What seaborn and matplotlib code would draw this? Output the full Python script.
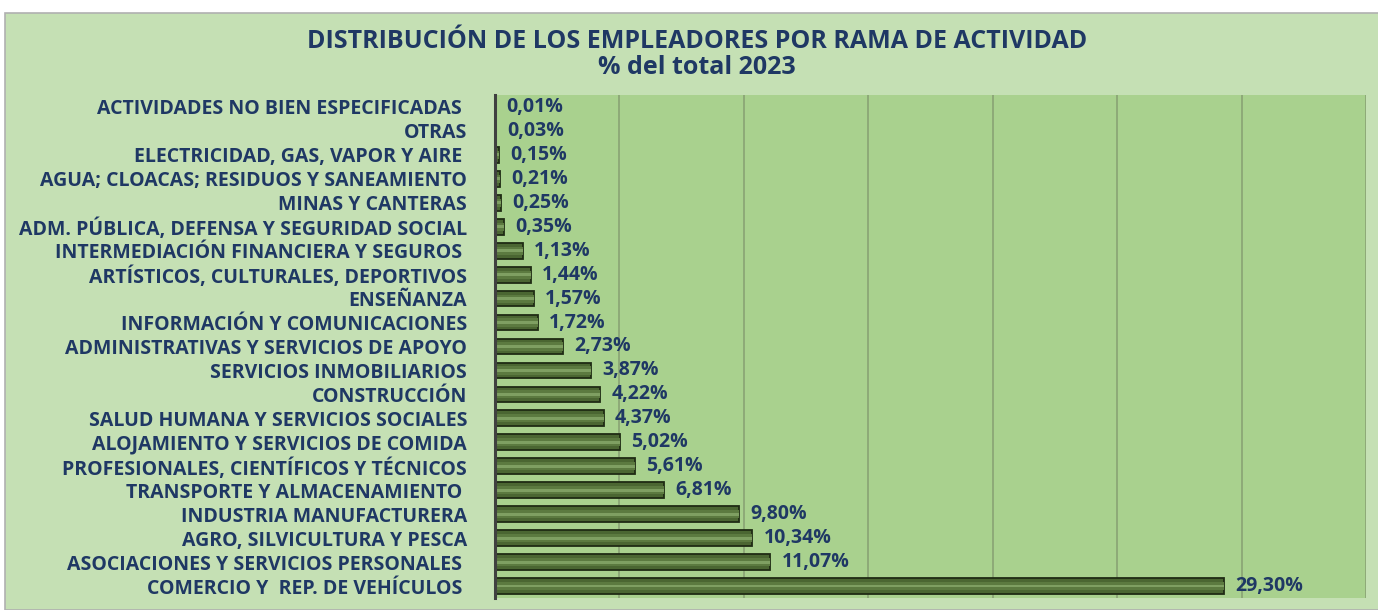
import matplotlib
matplotlib.use('Agg')
import matplotlib.pyplot as plt
import seaborn as sns
import pandas as pd
from matplotlib.patches import Rectangle

# Datos (de arriba hacia abajo)
ramas = ['ACTIVIDADES NO BIEN ESPECIFICADAS ', 'OTRAS', 'ELECTRICIDAD, GAS, VAPOR Y AIRE ',
         'AGUA; CLOACAS; RESIDUOS Y SANEAMIENTO', 'MINAS Y CANTERAS',
         'ADM. PÚBLICA, DEFENSA Y SEGURIDAD SOCIAL', 'INTERMEDIACIÓN FINANCIERA Y SEGUROS ',
         'ARTÍSTICOS, CULTURALES, DEPORTIVOS', 'ENSEÑANZA', 'INFORMACIÓN Y COMUNICACIONES',
         'ADMINISTRATIVAS Y SERVICIOS DE APOYO', 'SERVICIOS INMOBILIARIOS', 'CONSTRUCCIÓN',
         'SALUD HUMANA Y SERVICIOS SOCIALES', 'ALOJAMIENTO Y SERVICIOS DE COMIDA',
         'PROFESIONALES, CIENTÍFICOS Y TÉCNICOS', 'TRANSPORTE Y ALMACENAMIENTO ',
         'INDUSTRIA MANUFACTURERA', 'AGRO, SILVICULTURA Y PESCA',
         'ASOCIACIONES Y SERVICIOS PERSONALES ', 'COMERCIO Y  REP. DE VEHÍCULOS ']
porcentajes = [0.01, 0.03, 0.15, 0.21, 0.25, 0.35, 1.13, 1.44, 1.57, 1.72, 2.73, 3.87,
               4.22, 4.37, 5.02, 5.61, 6.81, 9.80, 10.34, 11.07, 29.30]
etiquetas = [f'{v:.2f}%'.replace('.', ',') for v in porcentajes]

df = pd.DataFrame({'rama': ramas, 'pct': porcentajes})

sns.set_style('white')
plt.rcParams['font.family'] = ['Open Sans', 'DejaVu Sans']

navy = '#1f3864'
fig = plt.figure(figsize=(13.78, 6.10), dpi=100)
fig.patch.set_facecolor('white')
# marco del grafico
fig.patches.append(Rectangle((5 / 1378, 0), 1, 1 - 13 / 610, transform=fig.transFigure,
                             facecolor='#c5e0b4', edgecolor='#b0b0b0', lw=1.2, zorder=-10))

ax = fig.add_axes([495 / 1378, 1 - 598 / 610, 871 / 1378, 503 / 610])
ax.set_facecolor('#a9d18e')

sns.barplot(data=df, x='pct', y='rama', color='#4b6632', edgecolor='#1f2b14',
            linewidth=1.3, width=0.66, saturation=1, ax=ax, zorder=3)
# brillo de las barras (efecto 3D)
ax.barh(range(len(ramas)), df['pct'], height=0.34, color='#5c7a40', linewidth=0, zorder=4)
ax.barh(range(len(ramas)), df['pct'], height=0.12, color='#7f9f62', linewidth=0, zorder=5)
ax.set_ylim(len(ramas) - 0.5, -0.5)

ax.set_xlim(0, 35)
ax.set_xticks(range(0, 36, 5))
ax.xaxis.grid(True, color='#8ca676', lw=1.3, zorder=1)
ax.set_axisbelow(True)
ax.tick_params(axis='x', length=0, labelbottom=False)
ax.tick_params(axis='y', length=0, pad=20)
for lab in ax.get_yticklabels():
    lab.set_fontsize(14)
    lab.set_fontweight('bold')
    lab.set_color(navy)
ax.set_xlabel('')
ax.set_ylabel('')
for s in ['top', 'right', 'bottom']:
    ax.spines[s].set_visible(False)
ax.spines['left'].set_color('#404040')
ax.spines['left'].set_linewidth(2.2)
ax.spines['left'].set_zorder(6)

for i, (v, t) in enumerate(zip(porcentajes, etiquetas)):
    ax.annotate(t, (v, i), xytext=(8, 0), textcoords='offset points', va='center',
                ha='left', fontsize=14, fontweight='bold', color=navy, zorder=7)

fig.text(697 / 1378, 1 - 41 / 610, 'DISTRIBUCIÓN DE LOS EMPLEADORES POR RAMA DE ACTIVIDAD',
         ha='center', va='center', fontsize=18, fontweight='bold', color=navy)
fig.text(697 / 1378, 1 - 68 / 610, '% del total 2023',
         ha='center', va='center', fontsize=18, fontweight='bold', color=navy)

fig.savefig('out.png', dpi=100, facecolor=fig.get_facecolor())
